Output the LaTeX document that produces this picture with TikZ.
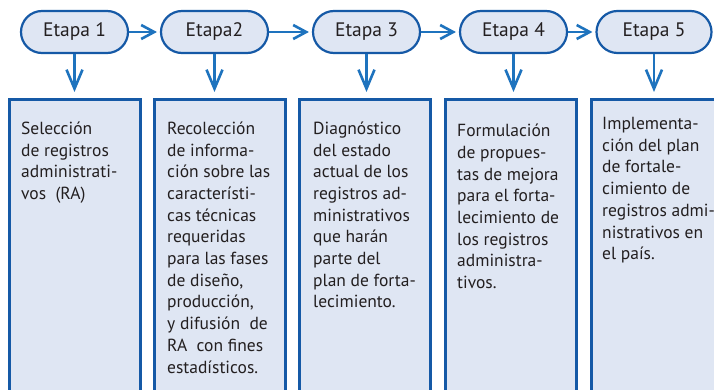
\documentclass[tikz,border=0pt]{standalone}
\usepackage{fontspec}
\setmainfont{PT Sans}
\usetikzlibrary{arrows.meta}
\definecolor{etapafill}{HTML}{DFE6F3}
\definecolor{etapaline}{HTML}{1559A6}
\definecolor{linkblue}{HTML}{1E73BE}
\definecolor{tinta}{HTML}{231F20}
\begin{document}
\begin{tikzpicture}[x=1pt,y=-1pt,
        etapa/.style={draw=etapaline,line width=2.2pt,fill=etapafill,rounded corners=21pt,text=tinta,
            minimum width=107pt,minimum height=42pt,font=\fontsize{19.5}{22}\selectfont},
        caja/.style={draw=etapaline,line width=3pt,fill=etapafill,anchor=north west,
            minimum width=131pt,minimum height=320pt},
        texto/.style={anchor=north west,align=left,inner sep=0pt,text=tinta,font=\fontsize{17.5}{21.7}\selectfont},
        link/.style={linkblue,line width=2.6pt,-{Straight Barb[length=13pt,width=14pt]}},
        baja/.style={linkblue,line width=2.6pt,-{Straight Barb[length=19pt,width=16pt]}}]
            \clip (0,0) rectangle (714,390);
            \fill[white] (0,0) rectangle (714,390);

            \node[etapa] (e1) at (74.5,32) {Etapa 1};
            \node[etapa] (e2) at (214.5,32) {Etapa2};
            \node[etapa] (e3) at (366.5,32) {Etapa 3};
            \node[etapa] (e4) at (513.5,32) {Etapa 4};
            \node[etapa,minimum width=115pt] (e5) at (654,32) {Etapa 5};

            \node[caja] (c1) at (8,98) {};
            \node[caja] (c2) at (153,98) {};
            \node[caja] (c3) at (298,98) {};
            \node[caja] (c4) at (444,98) {};
            \node[caja] (c5) at (590,98) {};

            \draw[link,shorten >=3pt] (e1) -- (e2);
            \draw[link,shorten >=3pt] (e2) -- (e3);
            \draw[link,shorten >=3pt] (e3) -- (e4);
            \draw[link,shorten >=3pt] (e4) -- (e5);

            \draw[baja,shorten >=6pt] (e1.south) -- (e1 |- c1.north);
            \draw[baja,shorten >=6pt] (e2.south) -- (e2 |- c2.north);
            \draw[baja,shorten >=6pt] (e3.south) -- (e3 |- c3.north);
            \draw[baja,shorten >=6pt] (e4.south) -- (e4 |- c4.north);
            \draw[baja,shorten >=6pt] (e5.south) -- (e5 |- c5.north);

            % texto de cada etapa
            \node[texto] (t1) at (21,121.5) {Selección\\de registros\\administrati-\\vos\ \ (RA)};
            \node[texto] (t2) at (167,121.5) {Recolección\\de informa-\\ción sobre las\\característi-\\cas técnicas\\requeridas\\para las fases\\de diseño,\\producción,\\y difusión\ \ de\\RA\ \ con fines\\estadísticos.};
            \node[texto] (t3) at (313,121.5) {Diagnóstico\\del estado\\actual de los\\registros ad-\\ministrativos\\que harán\\parte del\\plan de forta-\\lecimiento.};
            \node[texto] (t4) at (457,123.8) {Formulación\\de propues-\\tas de mejora\\para el forta-\\lecimiento de\\los registros\\administra-\\tivos.};
            \node[texto] (t5) at (602,117.1) {Implementa-\\ción del plan\\de fortale-\\cimiento de\\registros admi-\\nistrativos en\\el país.};
        \end{tikzpicture}
\end{document}
